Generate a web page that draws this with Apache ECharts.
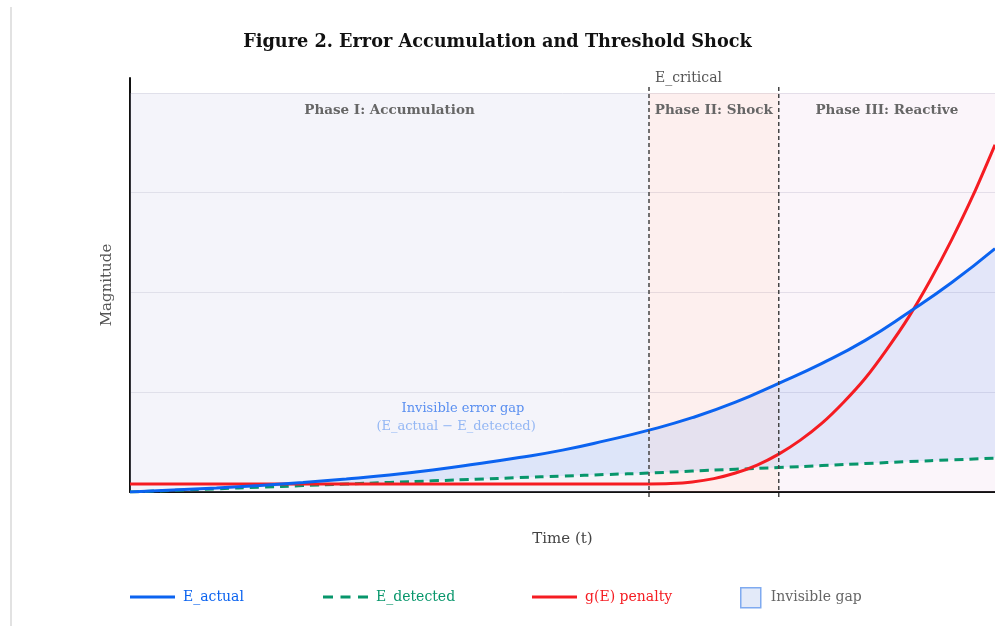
<!DOCTYPE html>
<html>
<head>
<meta charset="utf-8">
<script src="https://cdn.jsdelivr.net/npm/echarts@6/dist/echarts.min.js"></script>
<style>
  html, body { margin: 0; padding: 0; background: #fff; }
  #chart { width: 995px; height: 626px; }
</style>
</head>
<body>
<div id="chart"></div>
<script>
  // time grid shared by E_actual and E_detected
  var timeSteps = [0, 0.5, 1, 1.5, 2, 2.5, 3, 3.5, 4, 4.5, 5, 5.5, 6, 6.5, 7, 7.5, 8, 8.5, 9, 9.5, 10]
  var actualVals = [0, 0.02, 0.04, 0.065, 0.095, 0.13, 0.17, 0.22, 0.28, 0.345, 0.42, 0.515, 0.62, 0.745, 0.9, 1.09, 1.29, 1.52, 1.8, 2.1, 2.44]
  var detectedVals = [0, 0.016, 0.032, 0.048, 0.064, 0.08, 0.096, 0.112, 0.128, 0.144, 0.16, 0.175, 0.19, 0.21, 0.228, 0.245, 0.265, 0.285, 0.305, 0.322, 0.34]
  // penalty is flat until E_critical, then rises fast
  var penaltyTime = [0, 1, 2, 3, 4, 5, 5.5, 6, 6.25, 6.5, 6.75, 7, 7.25, 7.5, 7.75, 8, 8.25, 8.5, 8.75, 9, 9.25, 9.5, 9.75, 10]
  var penaltyVals = [0.08, 0.08, 0.08, 0.08, 0.08, 0.08, 0.08, 0.08, 0.084, 0.1, 0.134, 0.19, 0.27, 0.38, 0.52, 0.69, 0.9, 1.14, 1.43, 1.75, 2.12, 2.53, 2.98, 3.48]

  var phaseNames = ['Phase I: Accumulation', 'Phase II: Shock', 'Phase III: Reactive']
  var phaseEdges = [0, 6, 7.5, 10]
  var phaseColors = ['rgba(200,200,230,0.2)', 'rgba(240,150,140,0.15)', 'rgba(220,160,210,0.1)']
  var thresholds = [6, 7.5]
  var thresholdLabels = ['E_critical', '']
  var gapNote = ['Invisible error gap', '(E_actual \u2212 E_detected)']
  var gapNoteAt = [[3.85, 0.84], [3.77, 0.66]]

  var serif = '"DejaVu Serif", "Liberation Serif", serif'
  var blue = '#0b63f0'
  var green = '#07966b'
  var red = '#f51c22'

  var pairs = function (xs, ys) {
    return xs.map(function (x, i) { return [x, ys[i]] })
  }

  var bands = []
  for (var p = 0; p < phaseNames.length; p++) {
    bands.push([
      { name: phaseNames[p], xAxis: phaseEdges[p], yAxis: 0, itemStyle: { color: phaseColors[p] } },
      { xAxis: phaseEdges[p + 1], yAxis: 4 }
    ])
  }

  var solidIcon = 'path://M0,0H45V3H0Z'
  var dashIcon = 'path://M0,0H10V3H0Z M17.5,0H27.5V3H17.5Z M35,0H45V3H35Z'
  var legendText = { fontFamily: serif, fontSize: 14, padding: [0, 0, 0, 3] }

  var chart = echarts.init(document.getElementById('chart'))
  chart.setOption({
    backgroundColor: '#fff',
    animation: false,
    title: {
      text: 'Figure 2. Error Accumulation and Threshold Shock',
      left: 'center',
      top: 28,
      textStyle: { fontFamily: serif, fontSize: 17.7, fontWeight: 'bold', color: '#111' }
    },
    graphic: [{
      type: 'rect',
      shape: { x: 10, y: 7, width: 2, height: 619 },
      style: { fill: '#e2e2e2' },
      silent: true
    }],
    grid: { left: 130, right: 0, top: 78, bottom: 134 },
    xAxis: {
      type: 'value', min: 0, max: 10,
      name: 'Time (t)', nameLocation: 'middle', nameGap: 40,
      nameTextStyle: { fontFamily: serif, fontSize: 15, color: '#444' },
      axisLine: { lineStyle: { color: '#111', width: 2 } },
      axisTick: { show: false }, axisLabel: { show: false }, splitLine: { show: false }
    },
    yAxis: {
      type: 'value', min: 0, max: 4.15, interval: 1,
      name: 'Magnitude', nameLocation: 'middle', nameGap: 15,
      nameTextStyle: { fontFamily: serif, fontSize: 15, color: '#555' },
      axisLine: { show: true, lineStyle: { color: '#111', width: 2 } },
      axisTick: { show: false }, axisLabel: { show: false },
      splitLine: { showMaxLine: false, lineStyle: { color: '#e6e6ec', width: 1 } }
    },
    legend: [
      { left: 130, top: 590, padding: 0, itemWidth: 45, itemHeight: 3, data: [{ name: 'E_actual', icon: solidIcon, itemStyle: { color: blue }, textStyle: { color: blue } }], textStyle: legendText },
      { left: 323, top: 590, padding: 0, itemWidth: 45, itemHeight: 3, data: [{ name: 'E_detected', icon: dashIcon, itemStyle: { color: green }, textStyle: { color: green } }], textStyle: legendText },
      { left: 532, top: 590, padding: 0, itemWidth: 45, itemHeight: 3, data: [{ name: 'g(E) penalty', icon: solidIcon, itemStyle: { color: red }, textStyle: { color: red } }], textStyle: legendText },
      { left: 740, top: 587, padding: 0, itemWidth: 20, itemHeight: 20, data: [{ name: 'Invisible gap', icon: 'rect', itemStyle: { color: '#e3eaf9', borderColor: '#7faaf0', borderWidth: 1.5 }, textStyle: { color: '#666', padding: [0, 0, 0, 5] } }], textStyle: legendText }
    ],
    series: [
      {
        name: 'phases', type: 'line', z: 1, data: [], silent: true,
        markArea: {
          silent: true,
          label: { position: 'insideTop', distance: 11, fontFamily: serif, fontSize: 13.5, fontWeight: 'bold', color: '#666' },
          data: bands
        }
      },
      {
        // gap between actual and detected, drawn as one polygon plus its note
        name: 'Invisible gap', type: 'custom', z: 2, silent: true,
        data: [[0]],
        itemStyle: { color: '#e3eaf9' },
        renderItem: function (params, api) {
          var pts = []
          for (var i = 0; i < timeSteps.length; i++) pts.push(api.coord([timeSteps[i], actualVals[i]]))
          for (var j = timeSteps.length - 1; j >= 0; j--) pts.push(api.coord([timeSteps[j], detectedVals[j]]))
          var a = api.coord(gapNoteAt[0])
          var b = api.coord(gapNoteAt[1])
          return {
            type: 'group',
            children: [
              { type: 'polygon', shape: { points: pts }, style: { fill: 'rgba(66,133,244,0.13)' } },
              { type: 'text', x: a[0], y: a[1], style: { text: gapNote[0], fill: '#5a8ff0', font: '13px ' + serif, textAlign: 'center', textVerticalAlign: 'middle' } },
              { type: 'text', x: b[0], y: b[1], style: { text: gapNote[1], fill: '#94b7f4', font: '13px ' + serif, textAlign: 'center', textVerticalAlign: 'middle' } }
            ]
          }
        }
      },
      {
        name: 'E_detected', type: 'line', z: 3,
        data: pairs(timeSteps, detectedVals), smooth: true, symbol: 'none',
        lineStyle: { color: green, width: 3, type: [9, 6] }, itemStyle: { color: green }
      },
      {
        name: 'g(E) penalty', type: 'line', z: 4,
        data: pairs(penaltyTime, penaltyVals), smooth: 0.25, symbol: 'none',
        lineStyle: { color: red, width: 3 }, itemStyle: { color: red }
      },
      {
        name: 'E_actual', type: 'line', z: 5,
        data: pairs(timeSteps, actualVals), smooth: true, symbol: 'none',
        lineStyle: { color: blue, width: 3 }, itemStyle: { color: blue }
      },
      {
        name: 'thresholds', type: 'custom', z: 6, silent: true, clip: false,
        data: thresholds.map(function (t, i) { return [t, i] }),
        renderItem: function (params, api) {
          var x = api.value(0)
          var top = api.coord([x, 4.06])
          var bot = api.coord([x, 0])
          var children = [{
            type: 'line',
            shape: { x1: top[0], y1: top[1], x2: bot[0], y2: bot[1] + 5 },
            style: { stroke: '#444', lineWidth: 1.5, lineDash: [4, 3] }
          }]
          var lbl = thresholdLabels[api.value(1)]
          if (lbl) {
            children.push({
              type: 'text',
              x: top[0] + 6, y: top[1] - 2,
              style: { text: lbl, fill: '#555', font: '14px ' + serif, textAlign: 'left', textVerticalAlign: 'bottom' }
            })
          }
          return { type: 'group', children: children }
        }
      }
    ]
  })
</script>
</body>
</html>
